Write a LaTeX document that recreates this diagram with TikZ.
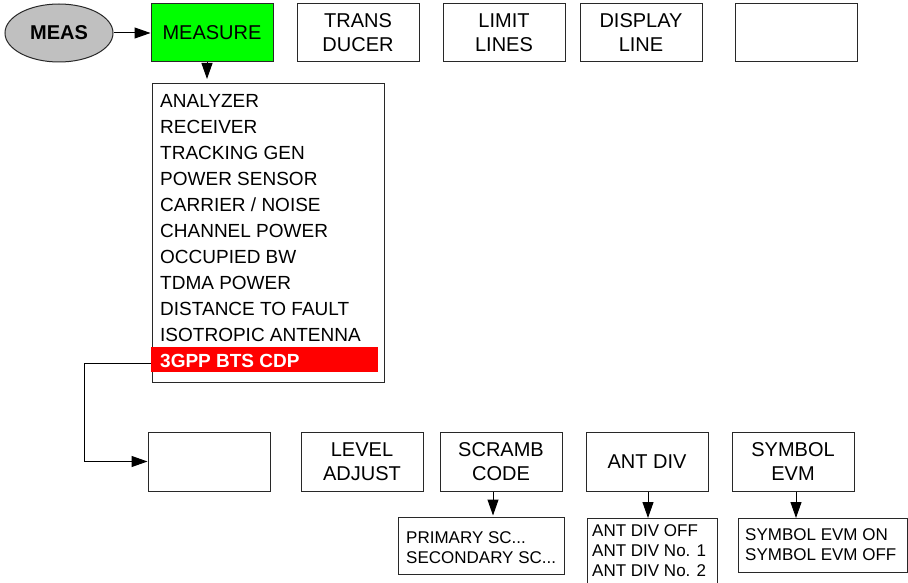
\documentclass[tikz,border=0pt]{standalone}
\usepackage{fontspec}
\setmainfont{Liberation Sans}
\usetikzlibrary{arrows.meta,shapes.geometric}
\definecolor{selgreen}{RGB}{0,255,0}
\definecolor{ovalgray}{RGB}{192,192,192}
\definecolor{linegray}{RGB}{40,40,40}
\tikzset{
  box/.style={draw=linegray, line width=1pt, rectangle, minimum width=122pt, minimum height=58pt, inner sep=0pt, align=center, font=\fontsize{20}{24}\selectfont},
  listbox/.style={draw=linegray, line width=1pt, rectangle, inner sep=0pt},
  listtext/.style={anchor=base west, inner sep=0pt, font=\fontsize{17}{20}\selectfont},
  menuitem/.style={anchor=base west, inner sep=0pt, font=\fontsize{19}{24}\selectfont},
  arr/.style={draw=black, line width=1pt, -{Triangle[length=16pt,width=11pt]}},
}
\begin{document}
\begin{tikzpicture}[x=1pt,y=-1pt]
\useasboundingbox (0,0) rectangle (908,583);
\fill[white] (0,0) rectangle (908,583);
% top row
\node[ellipse, draw=linegray, line width=1pt, fill=ovalgray, minimum width=108pt, minimum height=58pt, inner sep=0pt, font=\bfseries\fontsize{20}{24}\selectfont] (meas) at (59,33) {MEAS};
\node[box, fill=selgreen] (measure) at (212,33) {MEASURE};
\node[box] (trans) at (358,33) {TRANS\\DUCER};
\node[box] (limit) at (504,33) {LIMIT\\LINES};
\node[box] (display) at (641,33) {DISPLAY\\LINE};
\node[box] (empty1) at (796.5,33) {};
\draw[arr] (meas) -- (measure);
% menu
\node[listbox, anchor=north west, minimum width=232pt, minimum height=299pt] (menu) at (152,83) {};
\node[fill=red, inner sep=0pt, anchor=north west, minimum width=227pt, minimum height=25pt] (sel) at (151,347) {};
\draw[arr] ([xshift=-5pt]measure.south) -- ([xshift=-5pt]measure.south |- menu.north) [shorten >=4pt];
\foreach \i/\t in {0/ANALYZER,1/RECEIVER,2/TRACKING GEN,3/POWER SENSOR,4/{CARRIER / NOISE},5/CHANNEL POWER,6/OCCUPIED BW,7/TDMA POWER,8/DISTANCE TO FAULT,9/ISOTROPIC ANTENNA}{
  \node[menuitem] (item\i) at (160,{108+25.9*\i}) {\t};
}
\node[menuitem, text=white, font=\bfseries\fontsize{19}{24}\selectfont] (item10) at (160,367) {3GPP BTS CDP};
% bottom row
\node[box, minimum height=59pt] (empty2) at (209,461.5) {};
\node[box, minimum height=59pt] (level) at (362,461.5) {LEVEL\\ADJUST};
\node[box, minimum height=59pt] (scramb) at (501,461.5) {SCRAMB\\CODE};
\node[box, minimum height=59pt] (antdiv) at (647,461.5) {ANT DIV};
\node[box, minimum height=59pt] (symbol) at (793,461.5) {SYMBOL\\EVM};
\coordinate (bend) at (84,363);
\draw[arr] (sel.west |- 0,363) -- (bend) |- (empty2.west);
% lists
\node[listbox, anchor=north west, minimum width=166pt, minimum height=57pt] (primary) at (398,517) {};
\node[listtext] (prim1) at (406,543) {PRIMARY SC...};
\node[listtext] (prim2) at (406,563) {SECONDARY SC...};
\node[listbox, anchor=north west, minimum width=130pt, minimum height=80pt] (antlist) at (587,518) {};
\node[listtext] (ant1) at (592,536) {ANT DIV OFF};
\node[listtext] (ant2) at (592,556) {ANT DIV No. 1};
\node[listtext] (ant3) at (592,576) {ANT DIV No. 2};
\node[listbox, anchor=north west, minimum width=169pt, minimum height=54pt] (symlist) at (738,518) {};
\node[listtext] (sym1) at (745,540) {SYMBOL EVM ON};
\node[listtext] (sym2) at (745,560) {SYMBOL EVM OFF};
\draw[arr] ([xshift=-8pt]scramb.south) -- ([xshift=-8pt]scramb.south |- primary.north) [shorten >=1.5pt];
\draw[arr] ([xshift=1pt]antdiv.south) -- ([xshift=1pt]antdiv.south |- antlist.north);
\draw[arr] ([xshift=3pt]symbol.south) -- ([xshift=3pt]symbol.south |- symlist.north);
\end{tikzpicture}
\end{document}
